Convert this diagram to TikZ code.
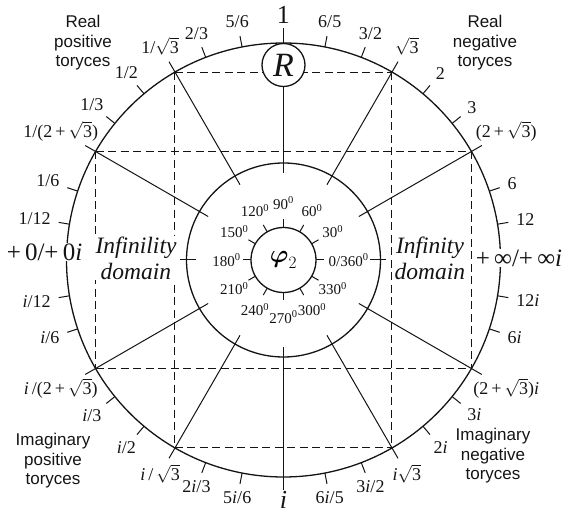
\documentclass[tikz,border=0pt]{standalone}
\usepackage{amsmath}
\usepackage{fontspec}
\setmainfont{Liberation Serif}
\newfontfamily\cornersans{Liberation Sans}
\usetikzlibrary{calc}
\definecolor{TorInk}{HTML}{141414}
\tikzset{
  rim/.style={TorInk,line width=1.3pt},
  spoke/.style={TorInk,line width=1pt},
  guide/.style={TorInk,line width=1pt,dash pattern=on 8pt off 4.5pt},
  valtext/.style={text=TorInk,inner sep=1pt,font=\fontsize{18}{20}\selectfont},
  degtext/.style={text=TorInk,inner sep=0pt,font=\fontsize{15}{17}\selectfont},
  cornertext/.style={text=TorInk,align=center,font=\cornersans\fontsize{17}{19.5}\selectfont},
  domaintext/.style={text=TorInk,align=center,fill=white,inner sep=1pt,
    font=\itshape\fontsize{23.5}{26}\selectfont},
  axistext/.style={text=TorInk,fill=white,inner sep=1pt,font=\fontsize{25}{25}\selectfont},
}
\newcommand{\rtthree}{$\sqrt{\mbox{3}}$}

\begin{document}
\begin{tikzpicture}[x=1pt,y=1pt]
  \useasboundingbox (-283.5,-254) rectangle (279.5,260);
  % circles
  \draw[rim] (0,0) circle (217);
  \draw[rim] (0,0) circle (97);
  \draw[rim] (0,0) circle (32.5);
  \foreach \a in {30,60,90,120,150,210,240,270,300,330}
    \coordinate (p\a) at (\a:217);
  % dashed frame between the rim points
  \draw[guide] (p120) -- (p60);
  \draw[guide] (p150) -- (p30);
  \draw[guide] (p210) -- (p330);
  \draw[guide] (p240) -- (p300);
  \draw[guide] (p120) -- (p240);
  \draw[guide] (p60) -- (p300);
  \draw[guide] (p150) -- (p210);
  \draw[guide] (p30) -- (p330);
  % spokes and ticks
  \foreach \a in {30,60,120,150,210,240,300,330}
    \draw[spoke] (\a:87) -- (\a:229);
  \draw[spoke] (90:87) -- (90:232);
  \draw[spoke] (270:87) -- (270:230);
  \draw[spoke] (0:87) -- (0:103);
  \draw[spoke] (180:87) -- (180:103);
  \foreach \a in {0,30,...,330}
    \draw[spoke] (\a:32.5) -- (\a:40.5);
  \foreach \a in {79,69,50,39,18.5,9.5,-9.5,-18.5,-39,-50,-69,-79,
                  -101,-111,-130,-141,-161.5,-170.5,170.5,161.5,141,130,111,101}
    \draw[spoke] (\a:217) -- (\a:228);
  % values round the rim
  \foreach \a/\t [count=\k, evaluate=\a as \b using \a+180] in {
      79/{6/5}, 69/{3/2}, 60/{\rtthree}, 50/2, 39/3, 30/{(2\,+\,\rtthree)},
      18.5/6, 9.5/12, -9.5/{12\textit{i}}, -18.5/{6\textit{i}},
      -30/{(2\,+\,\rtthree)\textit{i}}, -39/{3\textit{i}}, -50/{2\textit{i}},
      -60/{\textit{i}\rtthree}, -69/{3\textit{i}/2}, -79/{6\textit{i}/5},
      -101/{5\textit{i}/6}, -111/{2\textit{i}/3}, -120/{\textit{i}\,/\,\rtthree},
      -130/{\textit{i}/2}, -141/{\textit{i}/3}, -150/{\textit{i}\,/(2\,+\,\rtthree)},
      -161.5/{\textit{i}/6}, -170.5/{\textit{i}/12}, 170.5/{1/12}, 161.5/{1/6},
      150/{1/(2\,+\,\rtthree)}, 141/{1/3}, 130/{1/2}, 120/{1/\rtthree},
      111/{2/3}, 101/{5/6}}
    \node[valtext,anchor=\b] (val\k) at (\a:235) {\t};
  \node[valtext,anchor=south,font=\fontsize{26}{26}\selectfont] (one) at (90:235) {1};
  \node[valtext,anchor=north,inner sep=0pt,font=\itshape\fontsize{26}{26}\selectfont] (unit) at (270:231) {i};
  \node[axistext] (zero) at (-239,8) {+\,0/+\,0\textit{i}};
  \node[axistext] (infty) at (235.5,2) {+\,∞/+\,∞\textit{i}};
  % R on top
  \node[rim,draw,circle,fill=white,minimum size=43pt,inner sep=0pt,
    font=\itshape\fontsize{34}{34}\selectfont] (rnode) at (0,195) {R};
  % angle scale
  \foreach \a in {30,60,...,330}
    \node[degtext] (deg\a) at (\a:57) {\a\textsuperscript{0}};
  \node[degtext,anchor=west] (deg0) at (0:45) {0/360\textsuperscript{0}};
  \node[font=\fontsize{26}{26}\selectfont] (phi) at (0,0) {$\boldsymbol{\varphi}_2$};
  % domains
  \node[domaintext] (leftdom) at (-147.5,2) {Infinility\\domain};
  \node[domaintext] (rightdom) at (146.5,2) {Infinity\\domain};
  % corner captions
  \node[cornertext] (rpos) at (-200.5,217) {Real\\positive\\toryces};
  \node[cornertext] (rneg) at (201.5,217) {Real\\negative\\toryces};
  \node[cornertext] (ipos) at (-230.5,-201) {Imaginary\\positive\\toryces};
  \node[cornertext] (ineg) at (209.5,-196) {Imaginary\\negative\\toryces};
\end{tikzpicture}
\end{document}
